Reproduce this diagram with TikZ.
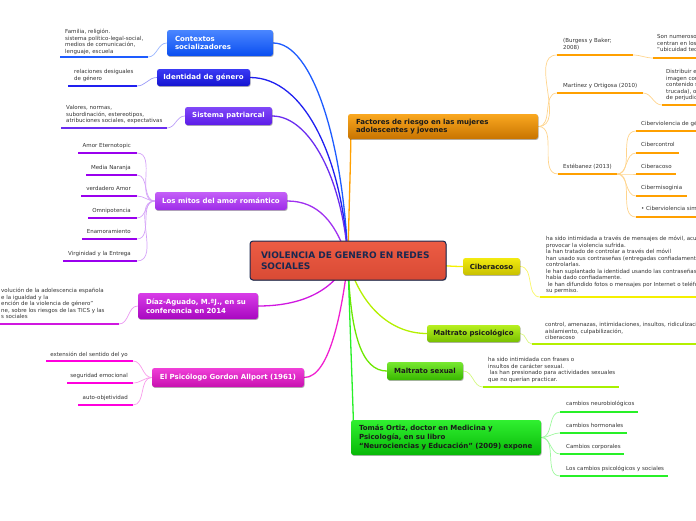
\documentclass[tikz,border=0pt]{standalone}
\usepackage{fontspec}
\setmainfont{DejaVu Sans}
\usetikzlibrary{shadows}
\pgfdeclarelayer{bg}
\pgfsetlayers{bg,main}
\definecolor{ctxT}{HTML}{4A86FF}\definecolor{ctxB}{HTML}{0A4EF0}
\definecolor{ideT}{HTML}{3A3AF5}\definecolor{ideB}{HTML}{1414D0}
\definecolor{sisT}{HTML}{8048F8}\definecolor{sisB}{HTML}{5C1CE8}
\definecolor{mitT}{HTML}{C460F8}\definecolor{mitB}{HTML}{9E2CE8}
\definecolor{diaT}{HTML}{D83CE8}\definecolor{diaB}{HTML}{A808C0}
\definecolor{allT}{HTML}{F040D8}\definecolor{allB}{HTML}{C810B0}
\definecolor{facT}{HTML}{FAA820}\definecolor{facB}{HTML}{C87400}
\definecolor{cibT}{HTML}{F2EA10}\definecolor{cibB}{HTML}{C8C000}
\definecolor{mpsT}{HTML}{B8F020}\definecolor{mpsB}{HTML}{78C000}
\definecolor{msxT}{HTML}{78E830}\definecolor{msxB}{HTML}{38B800}
\definecolor{tomT}{HTML}{30F030}\definecolor{tomB}{HTML}{08B808}
\definecolor{ctrT}{HTML}{EC5C44}\definecolor{ctrB}{HTML}{D94A34}
\definecolor{navy}{HTML}{1A2850}
\definecolor{lctx}{HTML}{1E5CFF}\definecolor{lide}{HTML}{2020F0}
\definecolor{lsis}{HTML}{6A2CF0}\definecolor{lmit}{HTML}{A030F0}
\definecolor{umit}{HTML}{9A00EE}
\definecolor{ldia}{HTML}{D018E0}\definecolor{lall}{HTML}{F020D0}
\definecolor{uall}{HTML}{FF00DD}
\definecolor{lfac}{HTML}{FFA000}\definecolor{lcib}{HTML}{F5F000}
\definecolor{lmps}{HTML}{B4F000}\definecolor{lmsx}{HTML}{6CE800}
\definecolor{umsx}{HTML}{A8F000}
\definecolor{ltom}{HTML}{28F028}
\definecolor{leafgray}{HTML}{333333}
\definecolor{darktxt}{HTML}{1A1A1A}
\newcommand{\leaffont}{\fontsize{5.5}{6.5}\selectfont}
\newcommand{\boxfont}{\fontsize{7}{8.8}\selectfont\bfseries}
\newcommand{\ctrfont}{\fontsize{9}{11}\selectfont\bfseries}
\tikzset{
  mbox/.style={rounded corners=2.5pt, inner ysep=0pt, font=\boxfont,
    drop shadow={shadow xshift=0.6pt, shadow yshift=-0.9pt, opacity=0.3, fill=black}},
  leaf/.style={inner sep=0pt, font=\leaffont, text=leafgray, align=left},
  ul/.style={line width=2.3pt},
  thinc/.style={line width=0.7pt},
  mainc/.style={line width=1.3pt},
}
\begin{document}
\begin{tikzpicture}[x=1pt,y=-1pt]
\useasboundingbox (0,0) rectangle (696,520);
\clip (0,0) rectangle (696,520);

% ---------- main boxes ----------
\node[mbox, top color=ctrT, bottom color=ctrB, draw=navy, line width=1pt, rounded corners=3pt,
  text=navy, font=\ctrfont, text width=174pt, inner xsep=11pt, minimum height=39pt, align=left]
  (ctr) at (348,260.5) {VIOLENCIA DE GENERO EN REDES\\SOCIALES};

\node[mbox, top color=ctxT, bottom color=ctxB, text=white, text width=90pt, inner xsep=8pt,
  minimum height=26pt, align=left] (ctx) at (220,43) {Contextos\\socializadores};
\node[mbox, top color=ideT, bottom color=ideB, text=white, minimum width=93pt, minimum height=17pt,
  inner xsep=0pt] (ide) at (203.5,77.5) {Identidad de género};
\node[mbox, top color=sisT, bottom color=sisB, text=white, minimum width=87pt, minimum height=18pt,
  inner xsep=0pt] (sis) at (228.5,116) {Sistema patriarcal};
\node[mbox, top color=mitT, bottom color=mitB, text=white, minimum width=132pt, minimum height=18pt,
  inner xsep=0pt] (mit) at (221,201) {Los mitos del amor romántico};
\node[mbox, top color=diaT, bottom color=diaB, text=white, text width=104pt, inner xsep=8pt,
  minimum height=26pt, align=left] (dia) at (198,306) {Díaz-Aguado, M.ªJ., en su\\conferencia en 2014};
\node[mbox, top color=allT, bottom color=allB, text=white, minimum width=152pt, minimum height=19pt,
  inner xsep=0pt] (all) at (228,377.5) {El Psicólogo Gordon Allport (1961)};

\node[mbox, top color=facT, bottom color=facB, text=darktxt, text width=174pt, inner xsep=8pt,
  minimum height=25pt, align=left] (fac) at (443,126.5) {Factores de riesgo en las mujeres\\adolescentes y jovenes};
\node[mbox, top color=cibT, bottom color=cibB, text=darktxt, minimum width=57pt, minimum height=17pt,
  inner xsep=0pt] (cib) at (491.5,266.5) {Ciberacoso};
\node[mbox, top color=mpsT, bottom color=mpsB, text=darktxt, minimum width=93pt, minimum height=17pt,
  inner xsep=0pt] (mps) at (473.5,333.5) {Maltrato psicológico};
\node[mbox, top color=msxT, bottom color=msxB, text=darktxt, minimum width=76pt, minimum height=18pt,
  inner xsep=0pt] (msx) at (425,371) {Maltrato sexual};
\node[mbox, top color=tomT, bottom color=tomB, text=darktxt, text width=174pt, inner xsep=8pt,
  minimum height=35pt, align=left] (tom) at (446,437.5)
  {Tomás Ortiz, doctor en Medicina y\\Psicología, en su libro\\\mbox{“Neurociencias y Educación” (2009) expone}};

% ---------- left leaves ----------
\node[leaf, anchor=north west] (ctxL) at (65,29.3) {Familia, religión.\\sistema político-legal-social,\\medios de comunicación,\\lenguaje, escuela};
\coordinate (ctxA) at (60,57); \coordinate (ctxB) at (148,57);
\node[leaf, anchor=north west] (ideL) at (74,69.3) {relaciones desiguales\\de género};
\coordinate (ideA) at (68,86); \coordinate (ideB) at (137,86);
\node[leaf, anchor=north west] (sisL) at (66,105.3) {Valores, normas,\\subordinación, estereotipos,\\atribuciones sociales, expectativas};
\coordinate (sisA) at (61,128); \coordinate (sisB) at (167,128);

\node[leaf, anchor=base east] (m1) at (131,147.6) {Amor Eternotopic};
\node[leaf, anchor=base east] (m2) at (131,169.6) {Media Naranja};
\node[leaf, anchor=base east] (m3) at (131,190.6) {verdadero Amor};
\node[leaf, anchor=base east] (m4) at (131,212.6) {Omnipotencia};
\node[leaf, anchor=base east] (m5) at (131,233.6) {Enamoramiento};
\node[leaf, anchor=base east] (m6) at (131,255.6) {Virginidad y la Entrega};
\coordinate (m1A) at (78,153);  \coordinate (m1B) at (137,153);
\coordinate (m2A) at (86,175);  \coordinate (m2B) at (137,175);
\coordinate (m3A) at (81,196);  \coordinate (m3B) at (137,196);
\coordinate (m4A) at (88,218);  \coordinate (m4B) at (137,218);
\coordinate (m5A) at (82,239);  \coordinate (m5B) at (137,239);
\coordinate (m6A) at (63,261);  \coordinate (m6B) at (137,261);

\node[leaf, anchor=north west] (diaL) at (1,288.3) {volución de la adolescencia española\\e la igualdad y la\\ención de la violencia de género”\\ne, sobre los riesgos de las TICS y las\\s sociales};
\coordinate (diaA) at (-2,324); \coordinate (diaB) at (119,324);

\node[leaf, anchor=base east] (a1) at (128,356.6) {extensión del sentido del yo};
\node[leaf, anchor=base east] (a2) at (128,377.6) {seguridad emocional};
\node[leaf, anchor=base east] (a3) at (128,399.6) {auto-objetividad};
\coordinate (a1A) at (46,361); \coordinate (a1B) at (133,361);
\coordinate (a2A) at (67,383); \coordinate (a2B) at (133,383);
\coordinate (a3A) at (78,405); \coordinate (a3B) at (133,405);

% ---------- right leaves ----------
\node[leaf, anchor=north west] (burL) at (563,38.3) {(Burgess y Baker;\\2008)};
\coordinate (burA) at (557,55); \coordinate (burB) at (633,55);
\node[leaf, anchor=base west] (marL) at (563,87.6) {Martínez y Ortigosa (2010)};
\coordinate (marA) at (557,93); \coordinate (marB) at (643,93);
\node[leaf, anchor=base west] (estL) at (563,168.6) {Estébanez (2013)};
\coordinate (estA) at (558,174); \coordinate (estB) at (617,174);

\node[leaf, anchor=north west] (sonL) at (657,34.3) {Son numerosos\\centran en los\\“ubicuidad tecnológica”};
\coordinate (sonA) at (653,58); \coordinate (sonB) at (700,58);
\node[leaf, anchor=north west] (disL) at (666,69.3) {Distribuir en\\imagen comprometida\\contenido sexual\\trucada), o\\de perjudicar};
\coordinate (disA) at (662,105); \coordinate (disB) at (700,105);

\node[leaf, anchor=base west] (e1) at (641,125.6) {Ciberviolencia de género};
\node[leaf, anchor=base west] (e2) at (641,146.6) {Cibercontrol};
\node[leaf, anchor=base west] (e3) at (641,168.6) {Ciberacoso};
\node[leaf, anchor=base west] (e4) at (641,189.6) {Cibermisoginia};
\node[leaf, anchor=base west] (e5) at (641,210.6) {\textbullet\ Ciberviolencia simbólica};
\coordinate (e1A) at (636,131); \coordinate (e1B) at (700,131);
\coordinate (e2A) at (636,153); \coordinate (e2B) at (679,153);
\coordinate (e3A) at (636,174); \coordinate (e3B) at (676,174);
\coordinate (e4A) at (636,196); \coordinate (e4B) at (687,196);
\coordinate (e5A) at (636,217); \coordinate (e5B) at (700,217);

\node[leaf, anchor=north west] (cibL) at (546,236.3) {ha sido intimidada a través de mensajes de móvil, acusada\\provocar la violencia sufrida.\\la han tratado de controlar a través del móvil\\han usado sus contraseñas (entregadas confiadamente)\\controlarlas.\\le han suplantado la identidad usando las contraseñas que\\había dado confiadamente.\\\ le han difundido fotos o mensajes por Internet o teléfono\\su permiso.};
\coordinate (cibA) at (540,297); \coordinate (cibB) at (700,297);

\node[leaf, anchor=north west] (mpsL) at (545,322.3) {control, amenazas, intimidaciones, insultos, ridiculización,\\aislamiento, culpabilización,\\ciberacoso};
\coordinate (mpsA) at (532,344); \coordinate (mpsB) at (700,344);

\node[leaf, anchor=north west] (msxL) at (488,357.3) {ha sido intimidada con frases o\\insultos de carácter sexual.\\\ las han presionado para actividades sexuales\\que no querían practicar.};
\coordinate (msxA) at (483,387); \coordinate (msxB) at (619,387);

\node[leaf, anchor=base west] (t1) at (566,405.6) {cambios neurobiológicos};
\node[leaf, anchor=base west] (t2) at (566,427.6) {cambios hormonales};
\node[leaf, anchor=base west] (t3) at (566,448.6) {Cambios corporales};
\node[leaf, anchor=base west] (t4) at (566,470.6) {Los cambios psicológicos y sociales};
\coordinate (t1A) at (560,412); \coordinate (t1B) at (638,412);
\coordinate (t2A) at (560,433); \coordinate (t2B) at (627,433);
\coordinate (t3A) at (560,454); \coordinate (t3B) at (624,454);
\coordinate (t4A) at (560,476); \coordinate (t4B) at (668,476);

% ---------- underlines ----------
\draw[ul, lctx] (ctxA) -- (ctxB);
\draw[ul, lide] (ideA) -- (ideB);
\draw[ul, lsis] (sisA) -- (sisB);
\foreach \i in {1,...,6} \draw[ul, umit] (m\i A) -- (m\i B);
\draw[ul, ldia] (diaA) -- (diaB);
\foreach \i in {1,2,3} \draw[ul, uall] (a\i A) -- (a\i B);
\draw[ul, lfac] (burA) -- (burB);
\draw[ul, lfac] (marA) -- (marB);
\draw[ul, lfac] (estA) -- (estB);
\draw[ul, lfac] (sonA) -- (sonB);
\draw[ul, lfac] (disA) -- (disB);
\foreach \i in {1,...,5} \draw[ul, lfac] (e\i A) -- (e\i B);
\draw[ul, lcib] (cibA) -- (cibB);
\draw[ul, lmps] (mpsA) -- (mpsB);
\draw[ul, umsx] (msxA) -- (msxB);
\foreach \i in {1,...,4} \draw[ul, ltom] (t\i A) -- (t\i B);

% ---------- connectors ----------
\begin{pgfonlayer}{bg}
\draw[mainc, lctx] (ctx.east) .. controls (312,43) and (343,140) .. (ctr.center);
\draw[mainc, lide] (ide.east) .. controls (305,77.5) and (343,160) .. (ctr.center);
\draw[mainc, lsis] (sis.east) .. controls (310,116) and (343,180) .. (ctr.center);
\draw[mainc, lmit] (mit.east) .. controls (318,201) and (336,222) .. (ctr.center);
\draw[mainc, ldia] (dia.east) .. controls (300,306) and (333,292) .. (ctr.center);
\draw[mainc, lall] (all.east) .. controls (330,377.5) and (342,310) .. (ctr.center);
\draw[mainc, lfac] (ctr.center) .. controls (349,200) and (351,160) .. ([xshift=3pt]fac.west);
\draw[mainc, lcib] (ctr.center) .. controls (420,262) and (440,266.5) .. (cib.west);
\draw[mainc, lmps] (ctr.center) .. controls (360,305) and (390,333.5) .. (mps.west);
\draw[mainc, lmsx] (ctr.center) .. controls (350,335) and (362,371) .. (msx.west);
\draw[mainc, ltom] (ctr.center) .. controls (350,330) and (353,400) .. ([xshift=3pt]tom.west);

\draw[thinc, lctx!45!white] (ctxB) to[out=0,in=180] (ctx.west);
\draw[thinc, lide!45!white] (ideB) to[out=0,in=180] (ide.west);
\draw[thinc, lsis!45!white] (sisB) to[out=0,in=180] (sis.west);
\foreach \i in {1,...,6} \draw[thinc, lmit!45!white] (m\i B) to[out=0,in=180] (mit.west);
\draw[thinc, ldia!45!white] (diaB) to[out=0,in=180] (dia.west);
\foreach \i in {1,2,3} \draw[thinc, lall!45!white] (a\i B) to[out=0,in=180] (all.west);

\draw[thinc, lfac!45!white] (fac.east) to[out=0,in=180] (burA);
\draw[thinc, lfac!45!white] (fac.east) to[out=0,in=180] (marA);
\draw[thinc, lfac!45!white] (fac.east) to[out=0,in=180] (estA);
\draw[thinc, lfac!45!white] (burB) to[out=0,in=180] (sonA);
\draw[thinc, lfac!45!white] (marB) to[out=0,in=180] (disA);
\foreach \i in {1,...,5} \draw[thinc, lfac!45!white] (estB) to[out=0,in=180] (e\i A);
\draw[thinc, lcib!60!white] (cib.east) to[out=0,in=180] (cibA);
\draw[thinc, lmps!50!white] (mps.east) to[out=0,in=180] (mpsA);
\draw[thinc, umsx!50!white] (msx.east) to[out=0,in=180] (msxA);
\foreach \i in {1,...,4} \draw[thinc, ltom!45!white] (tom.east) to[out=0,in=180] (t\i A);
\end{pgfonlayer}
\end{tikzpicture}
\end{document}
